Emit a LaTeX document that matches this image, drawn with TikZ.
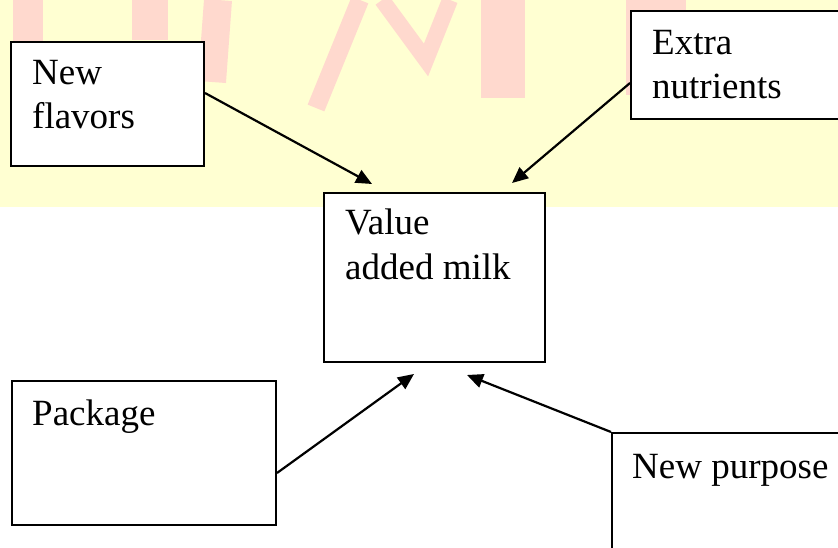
\documentclass[tikz,border=0pt]{standalone}
\usepackage{fontspec}
\setmainfont{Liberation Serif}
\usetikzlibrary{arrows.meta,calc}
\definecolor{bandyellow}{RGB}{255,255,210}
\definecolor{markpink}{RGB}{255,205,205}
\tikzset{
  boxnode/.style={draw=black, line width=2pt, fill=white, rectangle, inner sep=0pt, anchor=north west},
  txt/.style={inner sep=0pt, anchor=base west, font=\fontsize{37}{44}\selectfont},
  arr/.style={draw=black, line width=2.2pt, -{Triangle[length=16pt,width=14pt]}},
  wm/.style={draw=markpink, line cap=butt, opacity=0.75}
}
\begin{document}
\begin{tikzpicture}[x=1pt,y=-1pt]
\useasboundingbox (0,0) rectangle (838,548);
\clip (0,0) rectangle (838,548);
% background band
\fill[bandyellow] (0,0) rectangle (838,207);
% watermark strokes
\draw[wm, line width=30pt] (28,0) -- (28,45);
\draw[wm, line width=36pt] (150,0) -- (150,40);
\draw[wm, line width=28pt] (218,0) -- (212,82);
\draw[wm, line width=18pt] (360,0) -- (316,108);
\draw[wm, line width=16pt] (382,0) -- (426,60) -- (450,0);
\draw[wm, line width=44pt] (503,0) -- (503,98);
\draw[wm, line width=60pt] (656,0) -- (656,95);
% boxes
\node[boxnode, minimum width=193pt, minimum height=124pt] (nf) at (10,41) {};
\node[boxnode, minimum width=230pt, minimum height=108pt] (ex) at (630,10) {};
\node[boxnode, minimum width=221pt, minimum height=169pt] (vam) at (323,192) {};
\node[boxnode, minimum width=264pt, minimum height=144pt] (pk) at (11,380) {};
\node[boxnode, minimum width=240pt, minimum height=140pt] (np) at (611,432) {};
% texts
\node[txt] (nft) at ($(nf.north west)+(22,44)$) {\begin{tabular}[t]{@{}l@{}}New\\flavors\end{tabular}};
\node[txt] (ext) at ($(ex.north west)+(22,45)$) {\begin{tabular}[t]{@{}l@{}}Extra\\nutrients\end{tabular}};
\node[txt] (vamt) at ($(vam.north west)+(22,43)$) {\begin{tabular}[t]{@{}l@{}}Value\\added milk\end{tabular}};
\node[txt] (pkt) at ($(pk.north west)+(21,45)$) {Package};
\node[txt] (npt) at ($(np.north west)+(21,46)$) {New purpose};
% arrow ends
\coordinate (t1) at (372,184);
\coordinate (t2) at (512,183);
\coordinate (t3) at (414,374);
\coordinate (t4) at (467,375);
\coordinate (s1) at ($(nf.north east)+(0,52)$);
\coordinate (s2) at ($(ex.north west)+(0,73)$);
\coordinate (s3) at ($(pk.north east)+(0,93)$);
\draw[arr] (s1) -- (t1);
\draw[arr] (s2) -- (t2);
\draw[arr] (s3) -- (t3);
\draw[arr] (np.north west) -- (t4);
\end{tikzpicture}
\end{document}
